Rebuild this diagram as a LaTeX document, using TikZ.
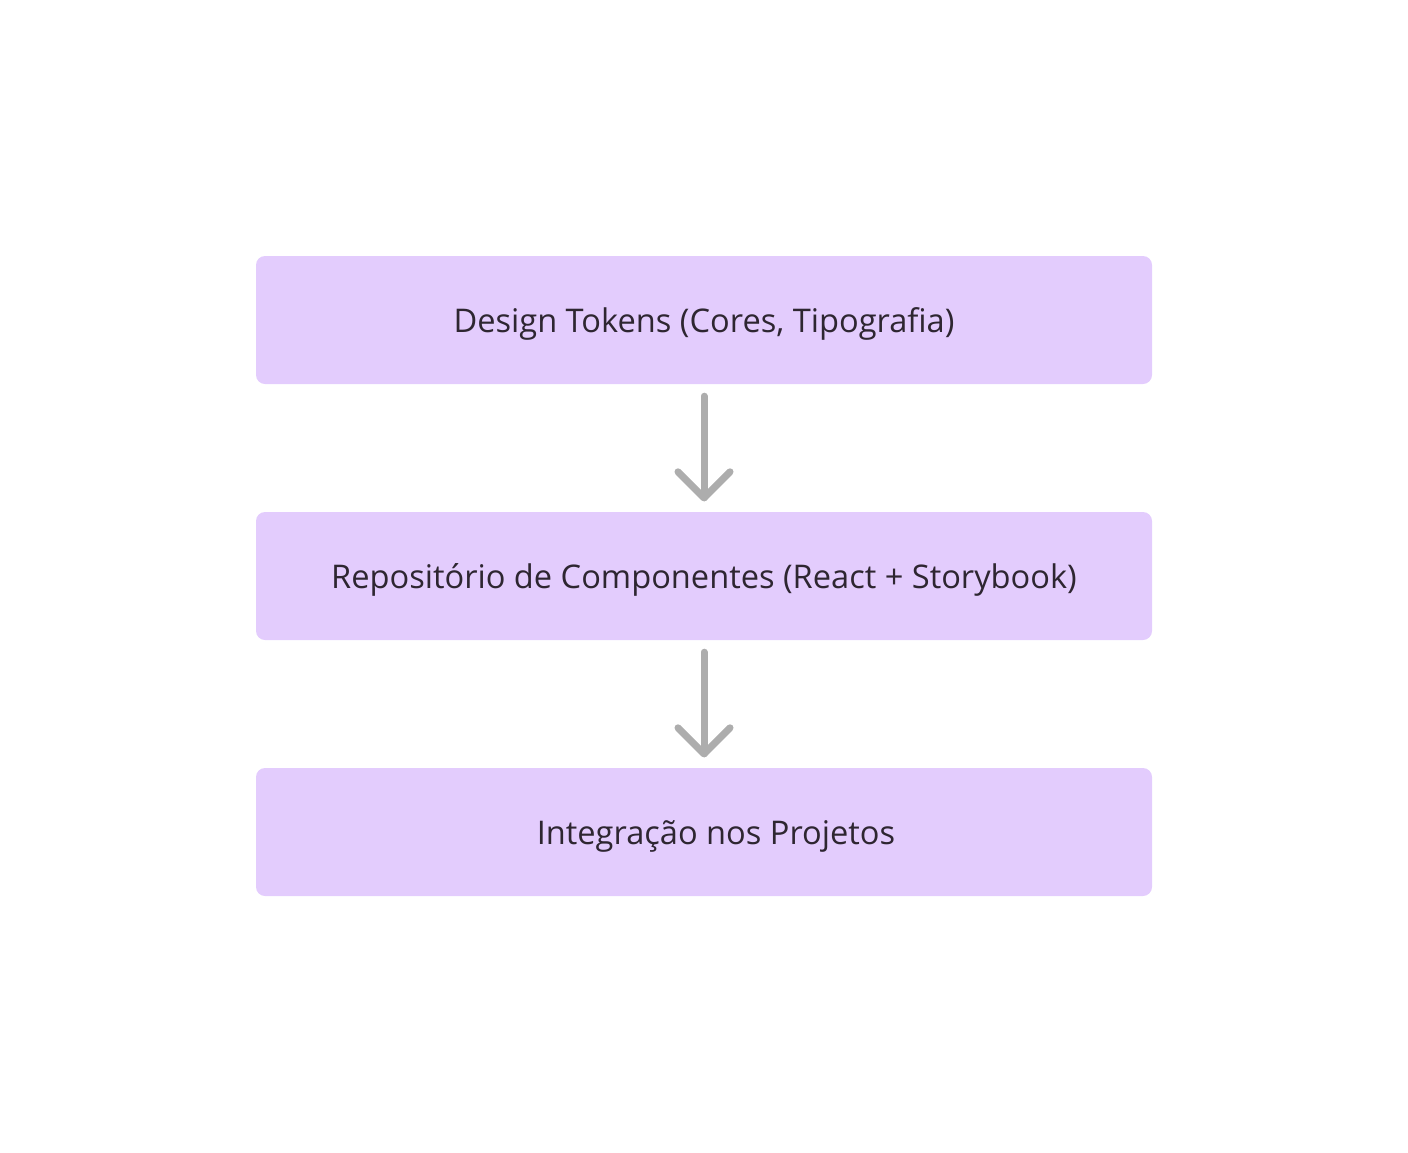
\documentclass[tikz,border=0pt]{standalone}
\usepackage{fontspec}
\setmainfont{Open Sans}
\usetikzlibrary{calc}
\definecolor{boxfill}{HTML}{E3CCFD}
\definecolor{txt}{HTML}{2E2631}
\definecolor{arr}{HTML}{ADADAD}
\newcommand{\lowtxt}[1]{\raisebox{-4pt}[\height][\depth]{#1}}
\begin{document}
\begin{tikzpicture}[x=1pt,y=-1pt,
  stepbox/.style={fill=boxfill,rounded corners=9pt,minimum width=896pt,minimum height=128pt,
    inner sep=0pt,text=txt,font=\fontsize{32.6}{38}\selectfont},
  conn/.style={draw=arr,line width=7pt,line cap=round,line join=round}]
\useasboundingbox (0,0) rectangle (1408,1152);
\node[stepbox] (a) at (704,320) {\lowtxt{Design Tokens (Cores, Tipografia)}};
\node[stepbox] (b) at (704,576) {\lowtxt{Repositório de Componentes (React + Storybook)}};
\node[stepbox] (c) at (704,832) {\lowtxt{\hspace*{24pt}Integração nos Projetos}};
\coordinate (a1) at ($(a.south)+(0,12)$);
\coordinate (a2) at ($(b.north)+(0,-14)$);
\coordinate (b1) at ($(b.south)+(0,12)$);
\coordinate (b2) at ($(c.north)+(0,-14)$);
\draw[conn] (a1) -- (a2);
\draw[conn] ($(a2)+(-26,-26)$) -- (a2) -- ($(a2)+(26,-26)$);
\draw[conn] (b1) -- (b2);
\draw[conn] ($(b2)+(-26,-26)$) -- (b2) -- ($(b2)+(26,-26)$);
\end{tikzpicture}
\end{document}
